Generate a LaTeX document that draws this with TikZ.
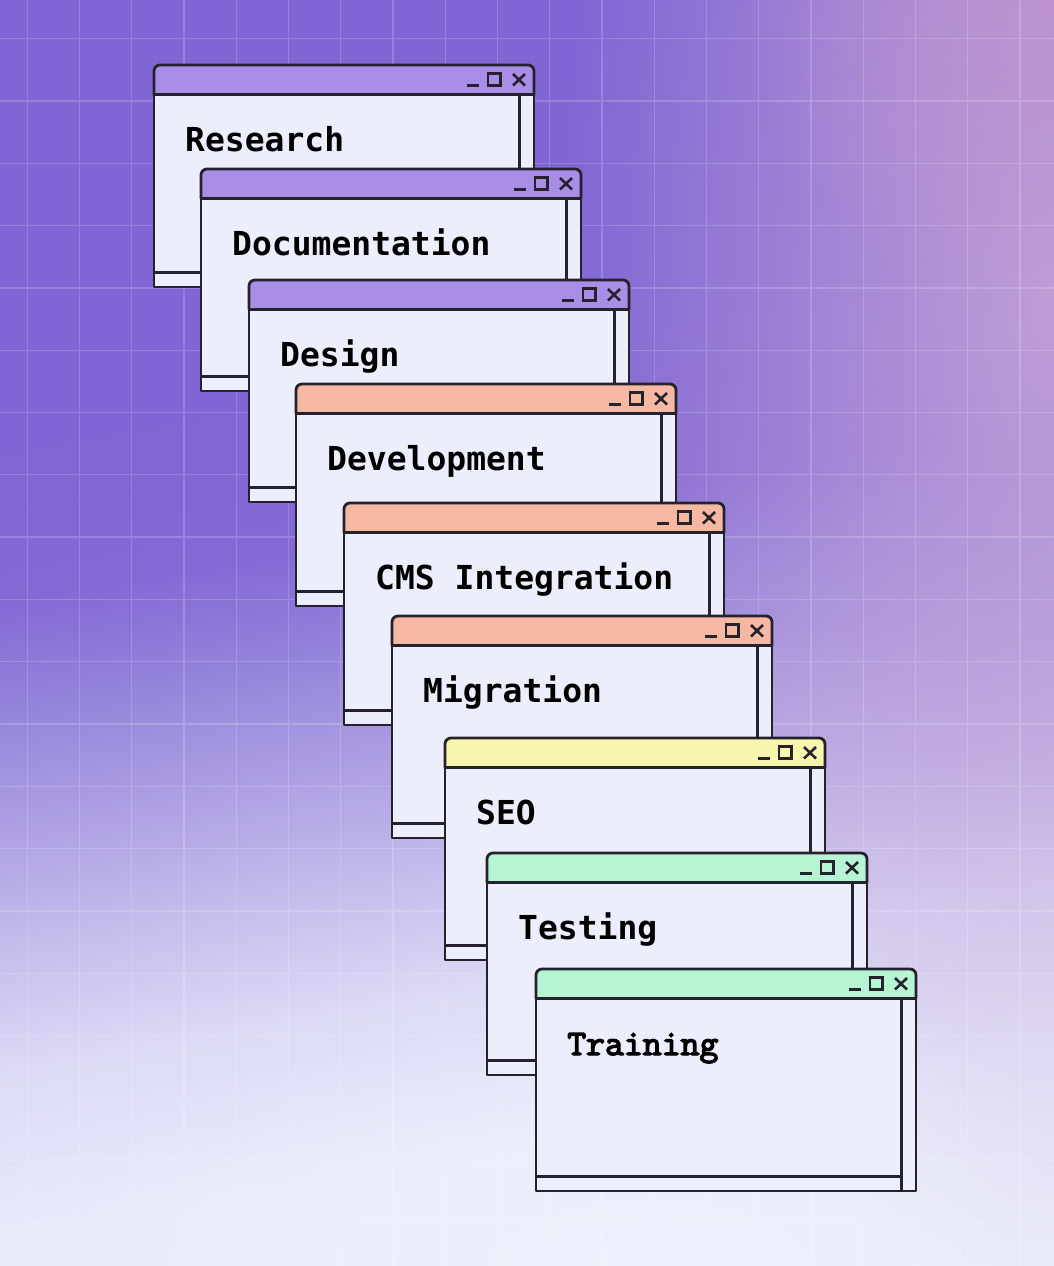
\documentclass[tikz,border=0pt]{standalone}
\usepackage{fontspec}
\usetikzlibrary{fadings}
\newfontfamily\winmono{DejaVu Sans Mono}
\newfontfamily\winserif{lmmono10-regular.otf}[FakeBold=3.5]

\definecolor{ink}{HTML}{25222D}
\definecolor{winbody}{HTML}{ECEEFC}
\definecolor{barpurple}{HTML}{A98EE8}
\definecolor{barsalmon}{HTML}{F6B8A2}
\definecolor{baryellow}{HTML}{F7F5AE}
\definecolor{barmint}{HTML}{B5F5D3}
\definecolor{bgviolet}{HTML}{7F66D4}
\definecolor{bgvioletb}{HTML}{8469D5}
\definecolor{bgmauve}{HTML}{9484DB}
\definecolor{bglav}{HTML}{AEA0E3}
\definecolor{bglilac}{HTML}{C6BDEC}
\definecolor{bgpale}{HTML}{DCDAF6}
\definecolor{bglight}{HTML}{E8EAFA}
\definecolor{bgglow}{HTML}{C2A2D8}
\definecolor{bgpink}{HTML}{C898CC}
\definecolor{bgwhite}{HTML}{F3F7FE}

\pgfdeclareverticalshading{bgsweep}{100bp}{color(0bp)=(bglight); color(29.7bp)=(bglight);
  color(36.1bp)=(bgpale); color(40.9bp)=(bglilac); color(45.7bp)=(bglav);
  color(50.5bp)=(bgmauve); color(55bp)=(bgvioletb); color(62bp)=(bgviolet);
  color(100bp)=(bgviolet)}
\tikzfading[name=glowstrong, inner color=transparent!5, outer color=transparent!100]
\tikzfading[name=glowsoft, inner color=transparent!40, outer color=transparent!100]

\begin{document}
\begin{tikzpicture}[x=1pt, y=1pt]

\tikzset{
  winframe/.style={draw=ink, line width=2.8pt, line join=round},
  winrule/.style={draw=ink, line width=2.6pt},
  wintext/.style={text=black, anchor=base west, inner sep=0pt},
  labelmono/.style={font=\winmono\bfseries\fontsize{33}{33}\selectfont},
  labelserif/.style={font=\winserif\fontsize{36}{36}\selectfont},
  gridline/.style={draw=white, draw opacity=0.18, line width=1.3pt},
  pics/appwin/.style n args={3}{code={
    \filldraw[winframe, fill=winbody] (0,-29.5) rectangle (380,-222);
    \filldraw[winframe, fill=#1] (0,-29.5) -- (0,-6)
      arc[start angle=180, end angle=90, radius=6] -- (374,0)
      arc[start angle=90, end angle=0, radius=6] -- (380,-29.5) -- cycle;
    \draw[winrule] (365.5,-29.5) -- (365.5,-222);
    \draw[winrule] (0,-207.5) -- (365.5,-207.5);
    \draw[winrule] (313,-20.5) -- (324.5,-20.5);
    \draw[winrule] (334,-8.5) rectangle (346.5,-20.5);
    \draw[winrule] (359,-9) -- (371,-20.5) (359,-20.5) -- (371,-9);
    \node[wintext, #2] (-label) at (31,-86) {#3};
  }}
}

\useasboundingbox (0,0) rectangle (1054,-1266);

% backdrop
\begin{scope}
  \clip (0,0) rectangle (1054,-1266);
  \shade[shading=bgsweep, shading angle=10] (0,0) rectangle (1054,-1266);
  \fill[bgglow, path fading=glowstrong] (1054,-300) ellipse (500 and 1000);
  \fill[bgpink, path fading=glowsoft] (1054,0) circle (320);
  \fill[bgwhite, path fading=glowsoft] (650,-1266) ellipse (650 and 260);
  \draw[gridline, xstep=52.25pt, ystep=62.3pt, shift={(27.3pt,-38.7pt)}]
    (-60,-1320) grid (1100,60);
\end{scope}

% stacked windows
\pic (research) at (154,-65)  {appwin={barpurple}{labelmono}{Research}};
\pic (docs)     at (201,-169) {appwin={barpurple}{labelmono}{Documentation}};
\pic (design)   at (249,-280) {appwin={barpurple}{labelmono}{Design}};
\pic (dev)      at (296,-384) {appwin={barsalmon}{labelmono}{Development}};
\pic (cms)      at (344,-503) {appwin={barsalmon}{labelmono}{CMS Integration}};
\pic (migrate)  at (392,-616) {appwin={barsalmon}{labelmono}{Migration}};
\pic (seo)      at (445,-738) {appwin={baryellow}{labelmono}{SEO}};
\pic (testing)  at (487,-853) {appwin={barmint}{labelmono}{Testing}};
\pic (training) at (536,-969) {appwin={barmint}{labelserif}{Training}};

\end{tikzpicture}
\end{document}
